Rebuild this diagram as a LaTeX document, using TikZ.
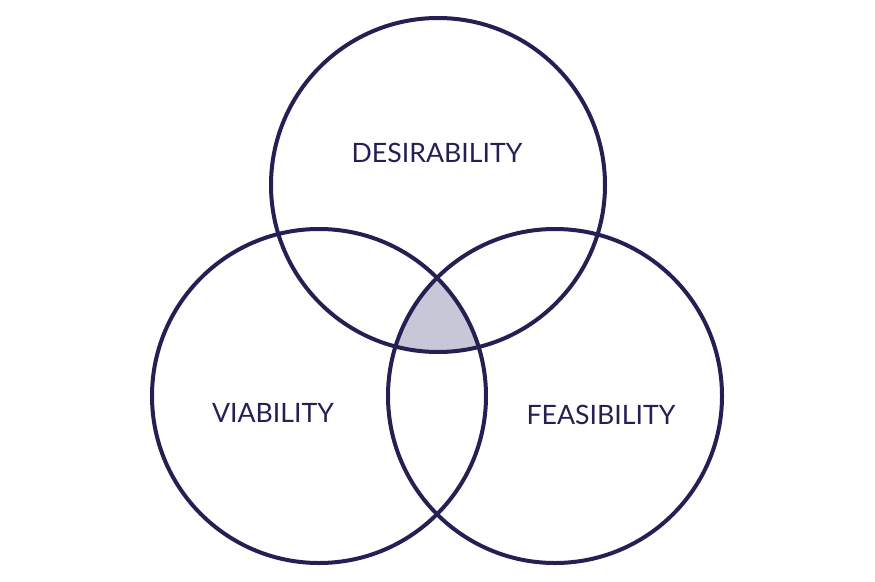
\documentclass[tikz,border=0pt]{standalone}
\usepackage{fontspec}
\setmainfont{Lato}
\usepackage{tikz}
\definecolor{navy}{RGB}{36,32,84}
\definecolor{core}{RGB}{198,199,215}
\tikzset{
  ring/.style={draw=navy,line width=3pt},
  lbl/.style={text=navy,font=\fontsize{20}{24}\selectfont}
}
\begin{document}
\begin{tikzpicture}[x=0.75pt,y=0.75pt,yscale=-1,xscale=1]
    \useasboundingbox (0,0) rectangle (875,582);
    %shaded core
    \begin{scope}
      \clip (438,185) circle (167);
      \clip (319,396) circle (167);
      \fill [core] (555,396) circle (167);
    \end{scope}
    %Shape: Circles
    \draw [ring] (438,185) circle (167);
    \draw [ring] (319,396) circle (167);
    \draw [ring] (555,396) circle (167);
    %Labels
    \node [lbl] (desir) at (437,153) {DESIRABILITY};
    \node [lbl] (viab) at (273,413) {VIABILITY};
    \node [lbl] (feas) at (601,415) {FEASIBILITY};
\end{tikzpicture}
\end{document}
